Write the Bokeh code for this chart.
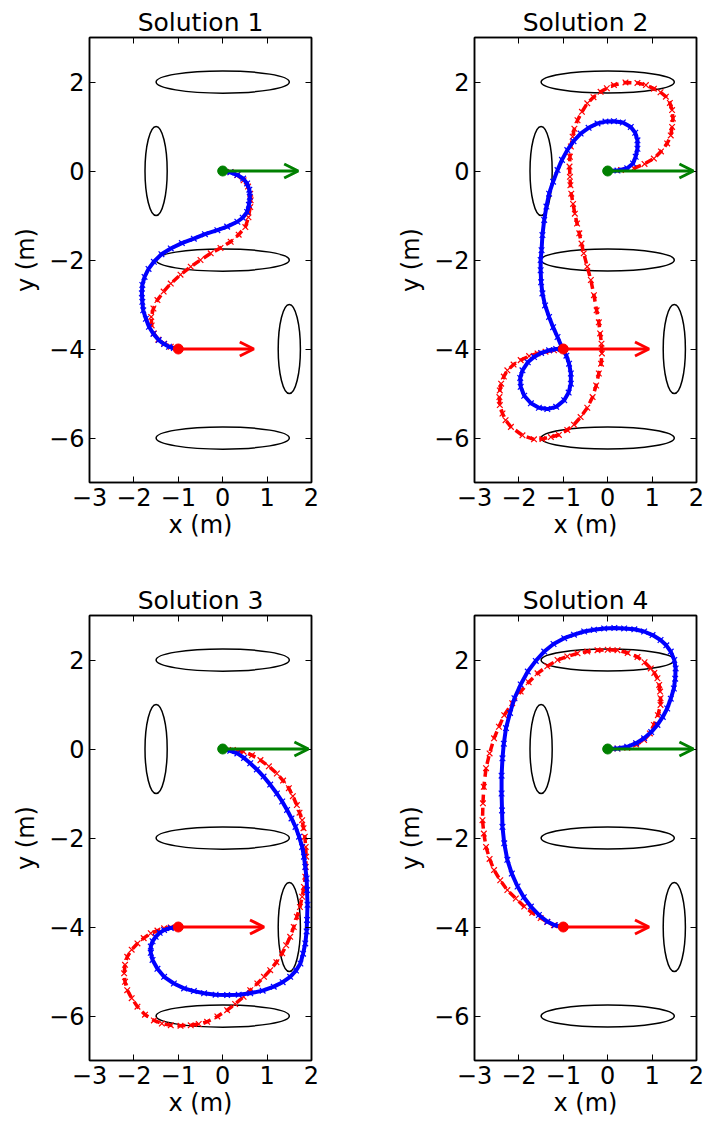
from bokeh.plotting import figure
from bokeh.models import Arrow, OpenHead, LinearAxis, FixedTicker, Range1d
from bokeh.layouts import column, row
from bokeh.embed import file_html
from bokeh.resources import INLINE

# ---------------- data ----------------
titles = ["Solution 1", "Solution 2", "Solution 3", "Solution 4"]
x_ticks = [-3, -2, -1, 0, 1, 2]
x_tick_labels = ["\u22123", "\u22122", "\u22121", "0", "1", "2"]
y_ticks = [-6, -4, -2, 0, 2]
y_tick_labels = ["\u22126", "\u22124", "\u22122", "0", "2"]

# obstacles (ellipses)
obst_x = [0, -1.5, 0, 1.5, 0]
obst_y = [2, 0, -2, -4, -6]
obst_w = [3, 0.5, 3, 0.5, 3]
obst_h = [0.5, 2, 0.5, 2, 0.5]

start_xy = [0, 0]
goal_xy = [-1, -4]
start_speed = [1.7, 1.93, 1.93, 1.93]
goal_speed = [1.7, 1.93, 1.93, 1.93]

sol1_blue = [(0, 0), (0.17, -0.03), (0.33, -0.09), (0.46, -0.17), (0.55, -0.28), (0.6, -0.42), (0.61, -0.58),
             (0.59, -0.76), (0.55, -0.92), (0.45, -1.05), (0.33, -1.14), (0.1, -1.25), (-0.12, -1.33), (-0.4, -1.42),
             (-0.65, -1.52), (-0.92, -1.62), (-1.17, -1.74), (-1.38, -1.87), (-1.55, -2.04), (-1.67, -2.2),
             (-1.76, -2.38), (-1.81, -2.56), (-1.82, -2.75), (-1.81, -2.94), (-1.79, -3.13), (-1.73, -3.32),
             (-1.66, -3.5), (-1.56, -3.66), (-1.44, -3.8), (-1.32, -3.89), (-1.21, -3.95), (-1.1, -3.98), (-1.0, -4.0)]
sol1_red = [(0, 0), (0.18, -0.02), (0.33, -0.09), (0.47, -0.21), (0.57, -0.35), (0.62, -0.51), (0.63, -0.66),
            (0.62, -0.81), (0.58, -1.04), (0.51, -1.26), (0.36, -1.43), (0.18, -1.59), (-0.05, -1.73), (-0.27, -1.85),
            (-0.5, -2.0), (-0.72, -2.15), (-0.95, -2.33), (-1.17, -2.53), (-1.33, -2.71), (-1.47, -2.9),
            (-1.56, -3.09), (-1.61, -3.28), (-1.6, -3.47), (-1.55, -3.65), (-1.45, -3.79), (-1.32, -3.88),
            (-1.17, -3.95), (-1.0, -4.0)]
sol2_blue = [(0, 0), (0.22, 0.01), (0.44, 0.06), (0.57, 0.17), (0.63, 0.32), (0.67, 0.5), (0.67, 0.69), (0.62, 0.86),
             (0.52, 0.99), (0.34, 1.09), (0.14, 1.12), (-0.05, 1.11), (-0.23, 1.07), (-0.43, 0.97), (-0.61, 0.84),
             (-0.77, 0.67), (-0.91, 0.47), (-1.03, 0.25), (-1.13, 0.02), (-1.23, -0.24), (-1.32, -0.51),
             (-1.38, -0.8), (-1.43, -1.1), (-1.47, -1.44), (-1.49, -1.78), (-1.51, -2.0), (-1.51, -2.23),
             (-1.5, -2.5), (-1.47, -2.75), (-1.41, -3.02), (-1.32, -3.28), (-1.23, -3.51), (-1.13, -3.73),
             (-1.02, -3.99), (-0.93, -4.15), (-0.87, -4.33), (-0.83, -4.55), (-0.83, -4.78), (-0.88, -4.98),
             (-0.98, -5.15), (-1.16, -5.3), (-1.36, -5.35), (-1.55, -5.32), (-1.73, -5.22), (-1.88, -5.05),
             (-1.96, -4.85), (-1.97, -4.65), (-1.92, -4.48), (-1.8, -4.3), (-1.66, -4.18), (-1.5, -4.09),
             (-1.32, -4.03), (-1.16, -4.0), (-1.0, -4.0)]
sol2_red = [(0, 0), (0.3, 0.02), (0.59, 0.06), (0.83, 0.16), (1.04, 0.28), (1.2, 0.44), (1.34, 0.62), (1.42, 0.8),
            (1.45, 0.99), (1.47, 1.18), (1.45, 1.37), (1.4, 1.53), (1.31, 1.67), (1.19, 1.77), (1.04, 1.85),
            (0.86, 1.93), (0.67, 1.98), (0.4, 1.99), (0.14, 1.93), (-0.02, 1.86), (-0.16, 1.78), (-0.32, 1.66),
            (-0.46, 1.52), (-0.58, 1.33), (-0.68, 1.14), (-0.75, 0.95), (-0.79, 0.77), (-0.83, 0.55), (-0.85, 0.32),
            (-0.86, 0.1), (-0.85, -0.13), (-0.84, -0.32), (-0.82, -0.51), (-0.78, -0.74), (-0.74, -0.96),
            (-0.69, -1.18), (-0.64, -1.4), (-0.59, -1.63), (-0.54, -1.85), (-0.46, -2.15), (-0.38, -2.45),
            (-0.31, -2.79), (-0.25, -3.13), (-0.2, -3.4), (-0.17, -3.65), (-0.14, -3.88), (-0.13, -4.1),
            (-0.15, -4.33), (-0.2, -4.55), (-0.26, -4.82), (-0.34, -5.08), (-0.46, -5.32), (-0.61, -5.53),
            (-0.76, -5.7), (-0.91, -5.82), (-1.1, -5.93), (-1.28, -5.98), (-1.47, -6.02), (-1.66, -6.03),
            (-1.92, -5.94), (-2.18, -5.75), (-2.3, -5.6), (-2.37, -5.45), (-2.43, -5.26), (-2.44, -5.08),
            (-2.43, -4.93), (-2.4, -4.78), (-2.34, -4.62), (-2.26, -4.48), (-2.12, -4.35), (-1.96, -4.25),
            (-1.77, -4.16), (-1.58, -4.1), (-1.4, -4.06), (-1.21, -4.03), (-1.0, -4.0)]
sol3_blue = [(0, 0), (0.17, -0.04), (0.33, -0.1), (0.48, -0.2), (0.62, -0.32), (0.77, -0.46), (0.92, -0.62),
             (1.07, -0.8), (1.22, -1.0), (1.34, -1.18), (1.45, -1.37), (1.55, -1.56), (1.64, -1.75), (1.72, -1.97),
             (1.79, -2.2), (1.83, -2.42), (1.86, -2.65), (1.89, -2.91), (1.9, -3.17), (1.91, -3.5), (1.9, -3.84),
             (1.89, -4.1), (1.86, -4.37), (1.81, -4.6), (1.75, -4.82), (1.65, -4.98), (1.52, -5.12), (1.35, -5.24),
             (1.15, -5.34), (0.9, -5.43), (0.62, -5.49), (0.36, -5.52), (0.1, -5.53), (-0.16, -5.52),
             (-0.42, -5.49), (-0.65, -5.44), (-0.87, -5.38), (-1.1, -5.27), (-1.32, -5.12), (-1.47, -4.94),
             (-1.58, -4.74), (-1.62, -4.58), (-1.62, -4.44), (-1.58, -4.32), (-1.51, -4.22), (-1.42, -4.13),
             (-1.32, -4.07), (-1.17, -4.02), (-1.0, -4.0)]
sol3_red = [(0, 0), (0.23, -0.02), (0.47, -0.06), (0.66, -0.14), (0.85, -0.25), (1.04, -0.39), (1.22, -0.55),
            (1.36, -0.71), (1.49, -0.88), (1.58, -1.06), (1.67, -1.26), (1.73, -1.43), (1.79, -1.6), (1.82, -1.78),
            (1.85, -1.97), (1.87, -2.2), (1.88, -2.42), (1.87, -2.65), (1.86, -2.87), (1.83, -3.1), (1.79, -3.32),
            (1.74, -3.55), (1.67, -3.77), (1.6, -4.0), (1.52, -4.22), (1.43, -4.41), (1.34, -4.59), (1.21, -4.79),
            (1.07, -4.97), (0.93, -5.12), (0.78, -5.27), (0.62, -5.42), (0.47, -5.57), (0.28, -5.73), (0.1, -5.87),
            (-0.12, -6.01), (-0.35, -6.13), (-0.54, -6.18), (-0.72, -6.21), (-0.95, -6.22), (-1.17, -6.21),
            (-1.37, -6.17), (-1.55, -6.1), (-1.75, -5.97), (-1.92, -5.79), (-2.05, -5.6), (-2.15, -5.42),
            (-2.2, -5.23), (-2.22, -5.04), (-2.2, -4.85), (-2.15, -4.67), (-2.05, -4.51), (-1.92, -4.37),
            (-1.78, -4.25), (-1.62, -4.14), (-1.47, -4.08), (-1.32, -4.03), (-1.17, -4.01), (-1.0, -4.0)]
sol4_blue = [(0, 0), (0.22, 0.01), (0.44, 0.05), (0.64, 0.13), (0.82, 0.24), (0.98, 0.38), (1.12, 0.54), (1.24, 0.72),
             (1.34, 0.91), (1.42, 1.13), (1.49, 1.36), (1.52, 1.58), (1.53, 1.81), (1.5, 2.0), (1.42, 2.19),
             (1.32, 2.33), (1.19, 2.45), (1.01, 2.56), (0.82, 2.64), (0.6, 2.69), (0.37, 2.71), (0.15, 2.72),
             (-0.08, 2.71), (-0.31, 2.68), (-0.53, 2.64), (-0.76, 2.57), (-0.98, 2.49), (-1.22, 2.36), (-1.43, 2.19),
             (-1.62, 1.98), (-1.8, 1.74), (-1.96, 1.45), (-2.1, 1.14), (-2.2, 0.81), (-2.29, 0.47), (-2.34, 0.12),
             (-2.37, -0.21), (-2.39, -0.6), (-2.39, -1.0), (-2.38, -1.38), (-2.37, -1.75), (-2.33, -2.12),
             (-2.26, -2.49), (-2.16, -2.8), (-2.03, -3.09), (-1.89, -3.33), (-1.73, -3.54), (-1.55, -3.73),
             (-1.36, -3.88), (-1.19, -3.96), (-1.0, -4.0)]
sol4_red = [(0, 0), (0.22, 0.01), (0.44, 0.03), (0.64, 0.1), (0.82, 0.2), (0.95, 0.35), (1.04, 0.54), (1.13, 0.76),
            (1.19, 0.99), (1.19, 1.14), (1.18, 1.29), (1.16, 1.44), (1.12, 1.59), (1.05, 1.71), (0.97, 1.81),
            (0.83, 1.95), (0.67, 2.07), (0.45, 2.16), (0.22, 2.22), (0.0, 2.23), (-0.23, 2.22), (-0.46, 2.19),
            (-0.68, 2.15), (-0.91, 2.08), (-1.13, 2.0), (-1.36, 1.86), (-1.58, 1.7), (-1.78, 1.5), (-1.96, 1.29),
            (-2.15, 1.03), (-2.33, 0.76), (-2.45, 0.5), (-2.56, 0.24), (-2.66, -0.1), (-2.74, -0.43), (-2.79, -0.85),
            (-2.81, -1.22), (-2.82, -1.6), (-2.79, -1.9), (-2.74, -2.2), (-2.66, -2.47), (-2.56, -2.72),
            (-2.42, -2.95), (-2.26, -3.17), (-2.07, -3.36), (-1.88, -3.54), (-1.7, -3.68), (-1.51, -3.8),
            (-1.36, -3.89), (-1.21, -3.96), (-1.0, -4.0)]

blue_paths = [sol1_blue, sol2_blue, sol3_blue, sol4_blue]
red_paths = [sol1_red, sol2_red, sol3_red, sol4_red]

# ---------------- styling ----------------
FONT = "DejaVu Sans"
BLUE = "#0000ff"
RED = "#ff0000"
GREEN = "#008000"
FRAME_W = 222
FRAME_H = 445


def style_axis(ax, ticks, labels, show_labels=True):
    ax.ticker = FixedTicker(ticks=ticks)
    ax.major_tick_in = 6
    ax.major_tick_out = 0
    ax.minor_tick_in = 0
    ax.minor_tick_out = 0
    ax.major_tick_line_color = "black"
    ax.major_tick_line_width = 1
    ax.axis_line_color = "black"
    ax.axis_line_width = 1.5
    if show_labels:
        ax.major_label_overrides = {t: l for t, l in zip(ticks, labels)}
        ax.major_label_text_font = FONT
        ax.major_label_text_font_size = "24px"
        ax.major_label_text_color = "black"
        ax.major_label_standoff = 5
        ax.axis_label_text_font = FONT
        ax.axis_label_text_font_size = "24px"
        ax.axis_label_text_font_style = "normal"
        ax.axis_label_text_color = "black"
    else:
        ax.major_label_text_font_size = "1px"
        ax.major_label_text_color = None
        ax.major_label_standoff = 0


def make_panel(i, left, right, top, bottom):
    p = figure(frame_width=FRAME_W, frame_height=FRAME_H,
               x_range=Range1d(-3, 2), y_range=Range1d(-7, 3),
               min_border_left=left, min_border_right=right,
               min_border_top=top, min_border_bottom=bottom,
               title=titles[i], output_backend="svg", toolbar_location=None)
    p.xgrid.visible = False
    p.ygrid.visible = False
    p.background_fill_color = "white"
    p.border_fill_color = "white"
    p.outline_line_color = "black"
    p.outline_line_width = 1.5
    p.title.text_font = FONT
    p.title.text_font_size = "25px"
    p.title.text_font_style = "normal"
    p.title.align = "center"
    p.title.text_color = "black"
    p.title.standoff = 2

    style_axis(p.below[0], x_ticks, x_tick_labels)
    style_axis(p.left[0], y_ticks, y_tick_labels)
    p.below[0].axis_label = "x (m)"
    p.left[0].axis_label = "y (m)"
    p.below[0].axis_label_standoff = 2
    p.left[0].axis_label_standoff = 6

    top_ax = LinearAxis()
    style_axis(top_ax, x_ticks, x_tick_labels, show_labels=False)
    p.add_layout(top_ax, "above")
    right_ax = LinearAxis()
    style_axis(right_ax, y_ticks, y_tick_labels, show_labels=False)
    p.add_layout(right_ax, "right")

    # obstacles
    p.ellipse(x=obst_x, y=obst_y, width=obst_w, height=obst_h,
              fill_color=None, line_color="black", line_width=1.5)

    # trajectories
    rx = [pt[0] for pt in red_paths[i]]
    ry = [pt[1] for pt in red_paths[i]]
    bx = [pt[0] for pt in blue_paths[i]]
    by = [pt[1] for pt in blue_paths[i]]
    p.line(rx, ry, line_color=RED, line_width=3.5, line_dash="8 5")
    p.scatter(rx, ry, marker="x", size=8, line_color=RED, line_width=1.2)
    p.line(bx, by, line_color=BLUE, line_width=4)
    p.scatter(bx, by, marker="x", size=8, line_color=BLUE, line_width=1.2)

    # velocity arrows
    p.add_layout(Arrow(end=OpenHead(size=14, line_color=GREEN, line_width=3),
                       x_start=start_xy[0], y_start=start_xy[1],
                       x_end=start_xy[0] + start_speed[i], y_end=start_xy[1],
                       line_color=GREEN, line_width=3))
    p.add_layout(Arrow(end=OpenHead(size=14, line_color=RED, line_width=3),
                       x_start=goal_xy[0], y_start=goal_xy[1],
                       x_end=goal_xy[0] + goal_speed[i], y_end=goal_xy[1],
                       line_color=RED, line_width=3))
    # start / goal points
    p.scatter([start_xy[0]], [start_xy[1]], marker="circle", size=10, fill_color=GREEN, line_color=GREEN)
    p.scatter([goal_xy[0]], [goal_xy[1]], marker="circle", size=10, fill_color=RED, line_color=RED)
    return p


p1 = make_panel(0, 89, 42, 37, 96)
p2 = make_panel(1, 121, 11, 37, 96)
p3 = make_panel(2, 89, 42, 37, 60)
p4 = make_panel(3, 121, 11, 37, 60)

layout = column(row(p1, p2), row(p3, p4))

open("out.html", "w").write(file_html(layout, INLINE))
